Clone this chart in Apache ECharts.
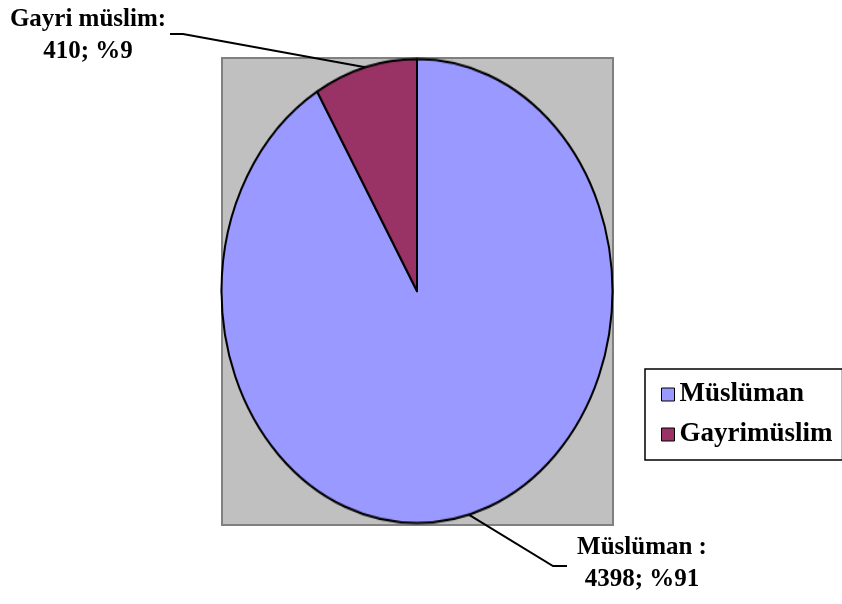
<!DOCTYPE html>
<html>
<head>
<meta charset="utf-8">
<script src="https://cdn.jsdelivr.net/npm/echarts@6/dist/echarts.min.js"></script>
<style>
  html, body { margin: 0; padding: 0; background: #fff; }
  .wrap { position: relative; width: 842px; height: 604px; }
  .layer { position: absolute; left: 0; top: 0; width: 842px; height: 604px; }
  /* the original pie is an ellipse: stretch the top layer vertically */
  .pie-top { transform: scaleY(1.1867); transform-origin: 0 291px; }
</style>
</head>
<body>
<div class="wrap">
  <div id="base" class="layer"></div>
  <div id="pieTop" class="layer pie-top"></div>
</div>
<script>
var categories = ['Müslüman', 'Gayrimüslim'];
var labelNames = ['Müslüman :', 'Gayri müslim:'];
var values = [4398, 410];
var colors = ['#9999ff', '#993366'];

var CX = 417, CY = 291, R = 195.5, SY = 1.1867;
var FONT = 'Liberation Serif, Times New Roman, serif';

var pieData = categories.map(function (c, i) {
  return { name: c, value: values[i], itemStyle: { color: colors[i] } };
});

// bottom layer: plot area, legend, labels
var baseChart = echarts.init(document.getElementById('base'));
baseChart.setOption({
  animation: false,
  backgroundColor: '#fff',
  graphic: [{
    type: 'rect', z: -10,
    shape: { x: 222, y: 58, width: 391, height: 467 },
    style: { fill: '#c0c0c0', stroke: '#808080', lineWidth: 2 }
  }],
  legend: {
    orient: 'vertical',
    left: 645, top: 369,
    padding: [12, 10, 12, 16],
    itemGap: 13,
    itemWidth: 13, itemHeight: 13,
    icon: 'rect',
    borderColor: '#000', borderWidth: 1.5,
    textStyle: { fontFamily: FONT, fontWeight: 'bold', fontSize: 27, color: '#000' },
    data: categories.map(function (c, i) {
      return { name: c, itemStyle: { color: colors[i], borderColor: '#000', borderWidth: 1 } };
    })
  },
  series: [{
    type: 'pie',
    center: [CX, CY],
    radius: R,
    startAngle: 90,
    silent: true,
    data: pieData,
    itemStyle: { borderColor: '#000', borderWidth: 1.5 },
    label: {
      show: true,
      fontFamily: FONT, fontWeight: 'bold', fontSize: 25, lineHeight: 32,
      color: '#000', align: 'center',
      formatter: function (p) {
        return labelNames[p.dataIndex] + '\n' + p.value + '; %' + Math.round(p.percent);
      }
    },
    labelLine: { show: true, lineStyle: { color: '#000', width: 2 } },
    labelLayout: function (p) {
      var pt = p.labelLinePoints[0];
      var ex = pt[0], ey = CY + (pt[1] - CY) * SY;
      if (p.dataIndex === 1) {
        return { x: 88, y: 36, align: 'center', verticalAlign: 'middle',
          labelLinePoints: [[ex, ey], [183, 34], [170, 34]] };
      }
      return { x: 642, y: 564, align: 'center', verticalAlign: 'middle',
        labelLinePoints: [[ex, ey], [553, 566], [567, 566]] };
    }
  }]
});

// top layer: the pie itself, stretched into an ellipse
var pieChart = echarts.init(document.getElementById('pieTop'));
pieChart.setOption({
  animation: false,
  series: [{
    type: 'pie',
    center: [CX, CY],
    radius: R,
    startAngle: 90,
    silent: true,
    data: pieData,
    itemStyle: { borderColor: '#000', borderWidth: 2 },
    label: { show: false },
    labelLine: { show: false }
  }]
});
</script>
</body>
</html>
